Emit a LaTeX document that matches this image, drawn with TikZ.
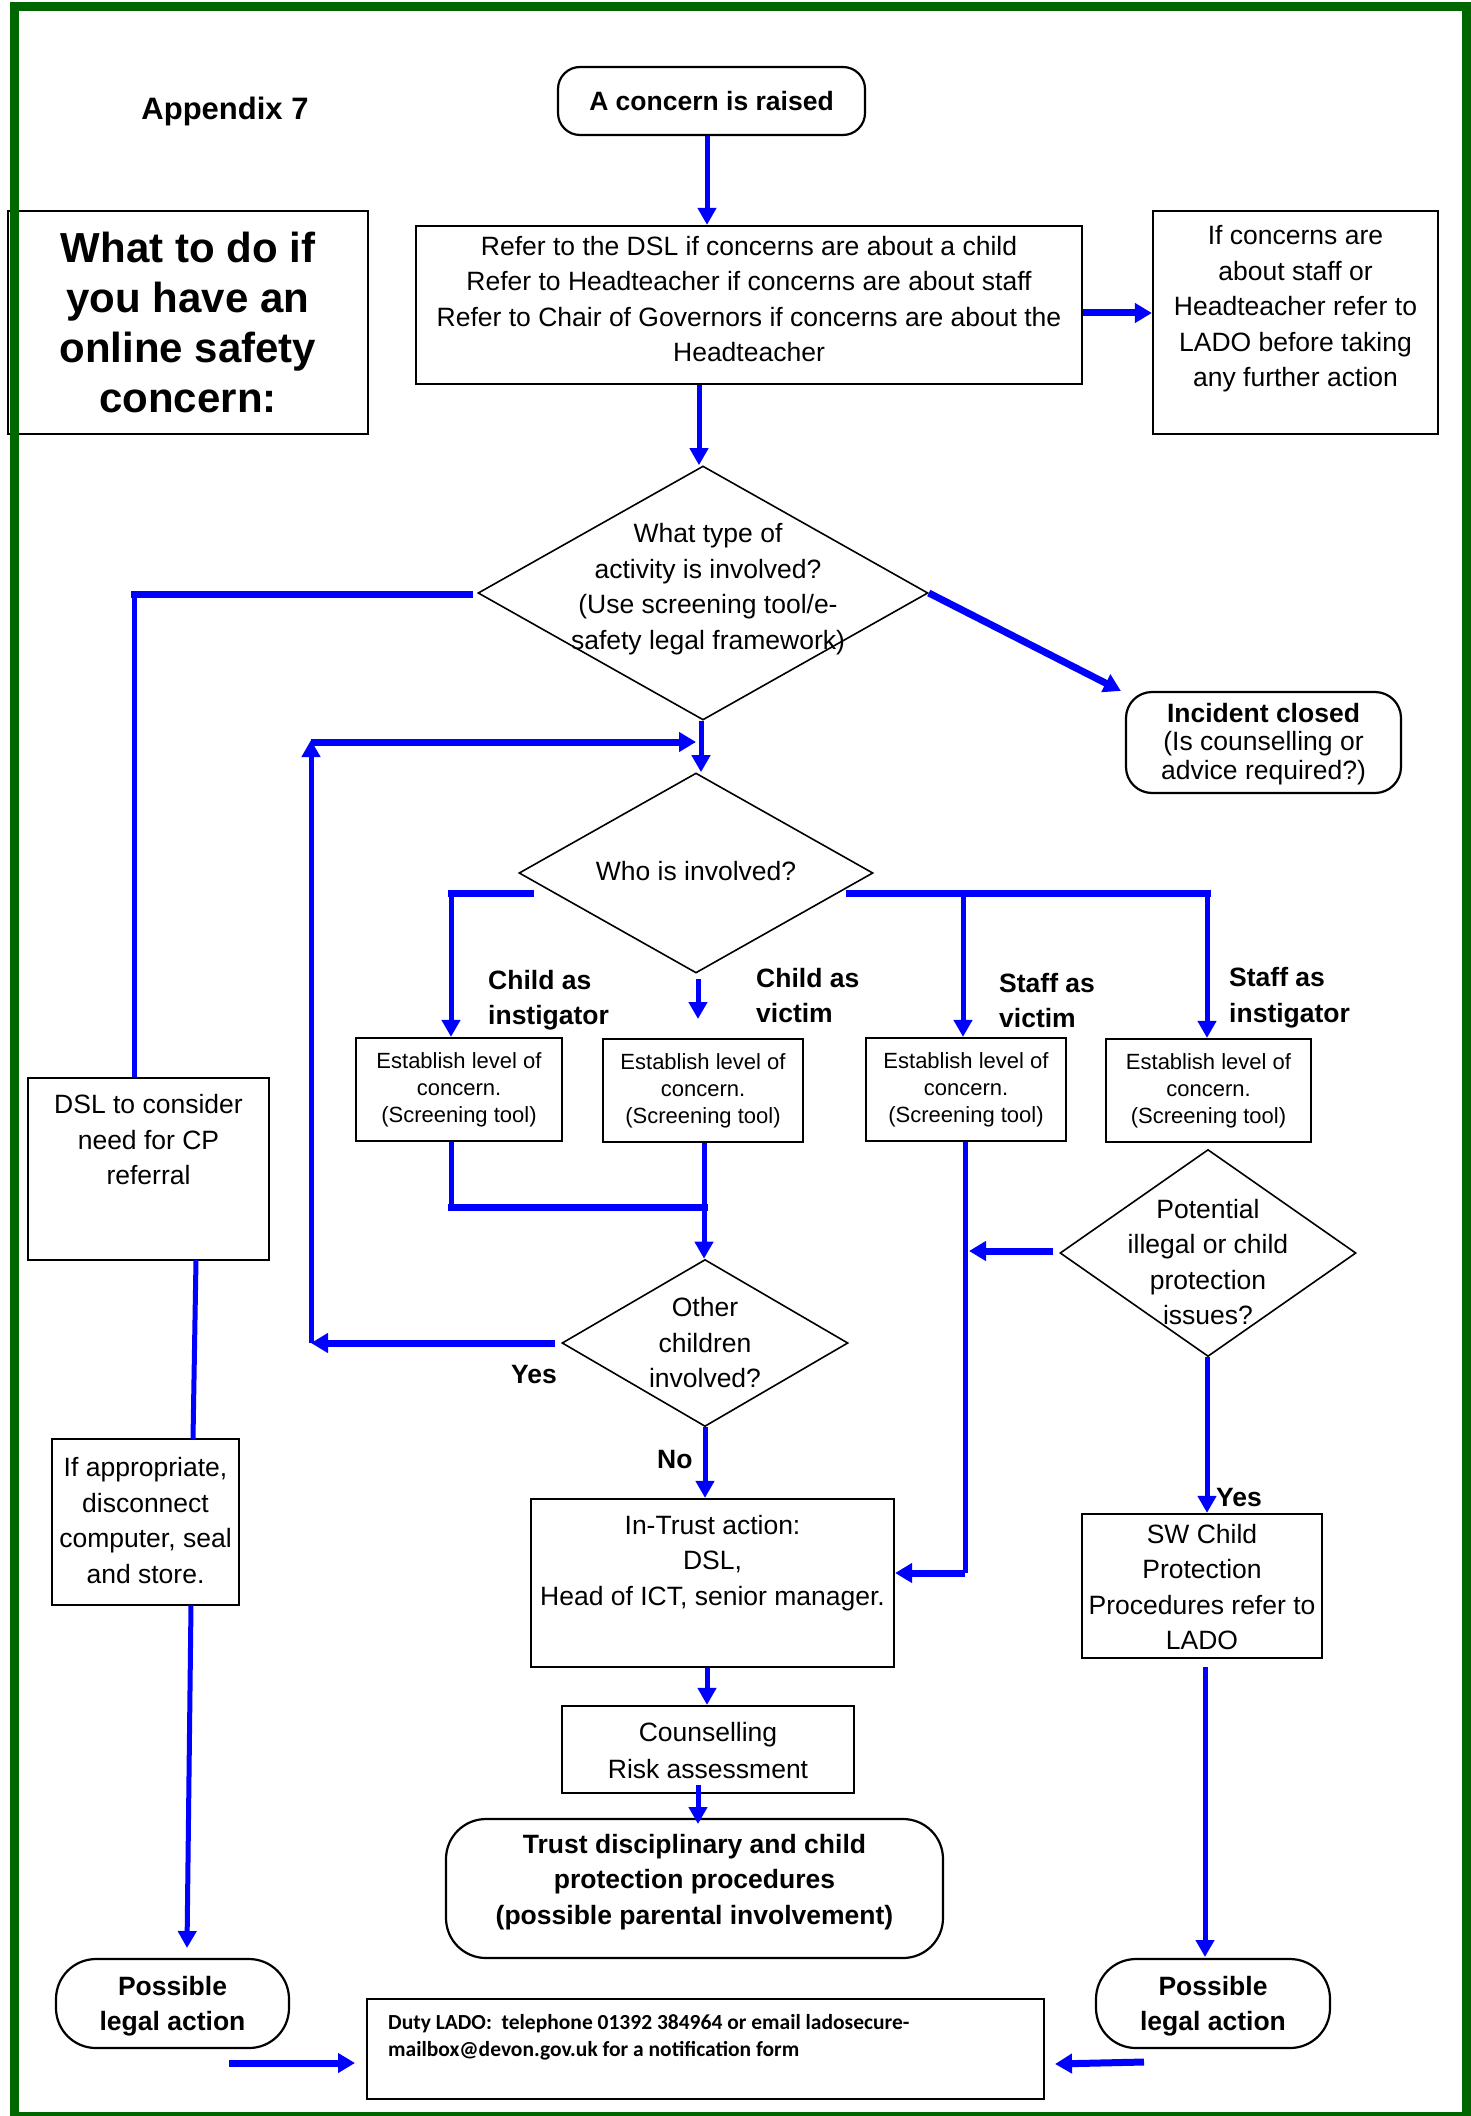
\documentclass[tikz,border=0pt]{standalone}
\usepackage{fontspec}
\setmainfont{Liberation Sans}
\newfontfamily\calibrifont{Carlito}
\usetikzlibrary{arrows.meta,shapes.geometric}
\definecolor{bordergreen}{RGB}{0,102,0}
\definecolor{flowblue}{RGB}{0,0,255}
\begin{document}
\begin{tikzpicture}[x=1pt,y=-1pt,
  box/.style={draw=black, line width=2.2pt, fill=white, inner sep=0pt},
  rbox/.style={box, rounded corners=#1},
  dia/.style={draw=black, line width=1.6pt, diamond, inner sep=0pt, fill=white},
  txt/.style={inner sep=0pt, align=center, font=\fontsize{26.5}{35.5}\selectfont},
  btxt/.style={inner sep=0pt, align=center, font=\fontsize{26.5}{35.5}\selectfont\bfseries},
  stxt/.style={inner sep=0pt, align=center, font=\fontsize{22}{27}\selectfont},
  fl/.style={draw=flowblue, line width=5pt},
  fa/.style={fl, -{Triangle[length=17pt,width=18pt]}},
  tl/.style={draw=flowblue, line width=7pt, line cap=rect},
  ta/.style={draw=flowblue, line width=7pt, -{Triangle[length=17pt,width=19pt]}},
]
\useasboundingbox (0,0) rectangle (1471,2116);

% ---------- nodes ----------
\node[btxt, font=\fontsize{31}{36}\selectfont\bfseries] (app) at (225,111) {Appendix 7};
\node[rbox=22pt, minimum width=307, minimum height=68] (concern) at (711.5,101) {};
\node[btxt] (concernt) at (711.5,101) {A concern is raised};

\node[box, minimum width=360, minimum height=223] (title) at (188,322.5) {};
\node[inner sep=0pt, align=center, font=\fontsize{42}{50}\selectfont\bfseries] (titlet) at (188,322) {What to do if\\you have an\\online safety\\concern:};

\node[box, minimum width=666, minimum height=158] (refer) at (749,305) {};
\node[txt] (refert) at (749,299) {Refer to the DSL if concerns are about a child\\Refer to Headteacher if concerns are about staff\\Refer to Chair of Governors if concerns are about the\\Headteacher};

\node[box, minimum width=285, minimum height=223] (ladoa) at (1295.5,322.5) {};
\node[txt] (ladoat) at (1295.5,309) {If concerns are\\about staff or\\Headteacher refer to\\LADO before taking\\any further action};

\node[dia, minimum width=450, minimum height=254] (d1) at (703,593) {};
\node[txt] (d1t) at (708,589) {What type of\\activity is involved?\\(Use screening tool/e-\\safety legal framework)};

\node[rbox=26pt, minimum width=275, minimum height=101] (closed) at (1263.5,742.5) {};
\node[inner sep=0pt, align=center, font=\fontsize{26.5}{28.5}\selectfont] (closedt) at (1263.5,744) {\textbf{Incident closed}\\(Is counselling or\\advice required?)};

\node[dia, minimum width=354, minimum height=200] (d2) at (696,873) {};
\node[txt] (d2t) at (696,871) {Who is involved?};

\node[btxt, anchor=west, align=left] (lab1) at (488,1000) {Child as\\instigator};
\node[btxt, anchor=west, align=left] (lab2) at (756,995.5) {Child as\\victim};
\node[btxt, anchor=west, align=left] (lab3) at (999,1000.5) {Staff as\\victim};
\node[btxt, anchor=west, align=left] (lab4) at (1229,997.5) {Staff as\\instigator};

\node[box, minimum width=206, minimum height=103] (ba) at (459,1089.5) {};
\node[box, minimum width=200, minimum height=103] (bb) at (703,1090.5) {};
\node[box, minimum width=200, minimum height=103] (bc) at (966,1089.5) {};
\node[box, minimum width=205, minimum height=103] (bd) at (1208.5,1090.5) {};
\node[stxt] (bat) at (459,1090) {Establish level of\\concern.\\(Screening tool)};
\node[stxt] (bbt) at (703,1091) {Establish level of\\concern.\\(Screening tool)};
\node[stxt] (bct) at (966,1090) {Establish level of\\concern.\\(Screening tool)};
\node[stxt] (bdt) at (1208.5,1091) {Establish level of\\concern.\\(Screening tool)};

\node[dia, minimum width=296, minimum height=207] (d4) at (1208,1253) {};
\node[txt] (d4t) at (1208,1262) {Potential\\illegal or child\\protection\\issues?};

\node[dia, minimum width=286, minimum height=167] (d3) at (705,1343) {};
\node[txt] (d3t) at (705,1343) {Other\\children\\involved?};

\node[btxt, anchor=west] (yes1) at (511,1374) {Yes};
\node[btxt, anchor=west] (no) at (657,1459) {No};
\node[btxt, anchor=west] (yes2) at (1216,1497) {Yes};

\node[box, minimum width=240, minimum height=144] (sw) at (1202,1586) {};
\node[txt] (swt) at (1202,1587) {SW Child\\Protection\\Procedures refer to\\LADO};

\node[box, minimum width=363, minimum height=168] (intrust) at (712.5,1583) {};
\node[txt] (intrustt) at (712.5,1563) {In-Trust action:\\DSL,\\Head of ICT, senior manager.};

\node[box, minimum width=292, minimum height=87] (couns) at (708,1749.5) {};
\node[inner sep=0pt, align=center, font=\fontsize{26.5}{37}\selectfont] (counst) at (708,1751) {Counselling\\Risk assessment};

\node[rbox=40pt, minimum width=497, minimum height=139] (trust) at (694.5,1888.5) {};
\node[btxt] (trustt) at (694.5,1882) {Trust disciplinary and child\\protection procedures\\(possible parental involvement)};

\node[box, minimum width=241, minimum height=182] (dsl) at (148.5,1169) {};
\node[txt] (dslt) at (148.5,1140) {DSL to consider\\need for CP\\referral};

\node[box, minimum width=187, minimum height=166] (ifapp) at (145.5,1522) {};
\node[txt] (ifappt) at (145.5,1520.5) {If appropriate,\\disconnect\\computer, seal\\and store.};

\node[rbox=40pt, minimum width=233, minimum height=89] (possl) at (172.5,2003.5) {};
\node[btxt] (posslt) at (172.5,2006) {Possible\\legal action};
\node[rbox=40pt, minimum width=234, minimum height=89] (possr) at (1213,2003.5) {};
\node[btxt] (possrt) at (1213,2006) {Possible\\legal action};

\node[box, minimum width=677, minimum height=100] (ladob) at (705.5,2049) {};
\node[inner sep=0pt, align=left, anchor=west, font=\calibrifont\fontsize{21.5}{27}\selectfont\bfseries] (ladobt) at (388,2037.5) {Duty LADO:\ \ telephone 01392 384964 or email ladosecure-\\mailbox@devon.gov.uk for a notification form};

% ---------- guide coordinates ----------
\coordinate (gx707) at (707,0);
\coordinate (gx699) at (699,0);
\coordinate (gx701) at (701,0);
\coordinate (gx451) at (451,0);
\coordinate (gx963) at (963,0);
\coordinate (gx1207) at (1207,0);
\coordinate (gx704) at (704,0);
\coordinate (gx965) at (965,0);
\coordinate (gx705) at (705,0);
\coordinate (gx698) at (698,0);
\coordinate (gy313) at (0,313);
\coordinate (k1) at (469,594);
\coordinate (k2) at (134,594);
\coordinate (loopB) at (311,1343);
\coordinate (loopT) at (311,740);
\coordinate (loopH) at (311,742);
\coordinate (w1) at (530,893);
\coordinate (w2) at (451,893);
\coordinate (e1) at (849,893);
\coordinate (e2) at (1207,893);
\coordinate (cv1) at (698,979);
\coordinate (cv2) at (698,1019);
\coordinate (m1) at (451,1207);
\coordinate (m2) at (704,1207);
\coordinate (r1) at (965,1573);
\coordinate (q1) at (1053,1251);
\coordinate (q2) at (969,1251);
\coordinate (s1) at (698,1785);
\coordinate (t1) at (698,1824);
\coordinate (u1) at (196,1260);
\coordinate (u2) at (193,1439);
\coordinate (v1) at (191,1605);
\coordinate (v2) at (187,1948);
\coordinate (z1) at (1205,1667);
\coordinate (z2) at (1205,1957);
\coordinate (la1) at (229,2063);
\coordinate (la2) at (355,2063);
\coordinate (lb1) at (1144,2062);
\coordinate (lb2) at (1055,2064);

% ---------- connectors ----------
\draw[fa] (gx707 |- concern.south) -- (gx707 |- refer.north);
\draw[ta] (gy313 -| refer.east) -- (gy313 -| ladoa.west);
\draw[fa] (gx699 |- refer.south) -- (gx699 |- d1.north);
\draw[tl] (k1) -- (k2);
\draw[fl] (k2) -- (k2 |- dsl.north);
\draw[ta] (d1.east) -- ([xshift=-4pt]closed.north west);
\draw[fa] (gx701 |- d1.south) -- (gx701 |- d2.north);
\draw[fa] (loopB) -- (loopT);
\draw[ta] (loopH) -- (loopH -| d2.north);
\draw[ta] (d3.west) ++(-6,0) -- (loopB);
\draw[tl] (w1) -- (w2);
\draw[fa] (w2) -- (gx451 |- ba.north);
\draw[tl] (e1) -- (e2);
\draw[fa] (gx963 |- e1) -- (gx963 |- bc.north);
\draw[fa] (e2) -- (gx1207 |- bd.north);
\draw[fa] (cv1) -- (cv2);
\draw[fl] (gx451 |- ba.south) -- (m1);
\draw[tl] (m1) -- (m2);
\draw[fa] (gx704 |- bb.south) -- (gx704 |- d3.north);
\draw[fl] (gx965 |- bc.south) -- (r1);
\draw[ta] (r1) -- (r1 -| intrust.east);
\draw[ta] (q1) -- (q2);
\draw[fa] (gx1207 |- d4.south) -- (gx1207 |- sw.north);
\draw[fa] (gx705 |- d3.south) -- (gx705 |- intrust.north);
\draw[fa] (gx707 |- intrust.south) -- (gx707 |- couns.north);
\draw[fa] (s1) -- (t1);
\draw[fl] (u1) -- (u2);
\draw[fa] (v1) -- (v2);
\draw[fa] (z1) -- (z2);
\draw[ta] (la1) -- (la2);
\draw[ta] (lb1) -- (lb2);

% ---------- page frame ----------
\draw[bordergreen, line width=9pt] (14.5,6.5) rectangle (1466.5,2116.5);
\end{tikzpicture}
\end{document}
